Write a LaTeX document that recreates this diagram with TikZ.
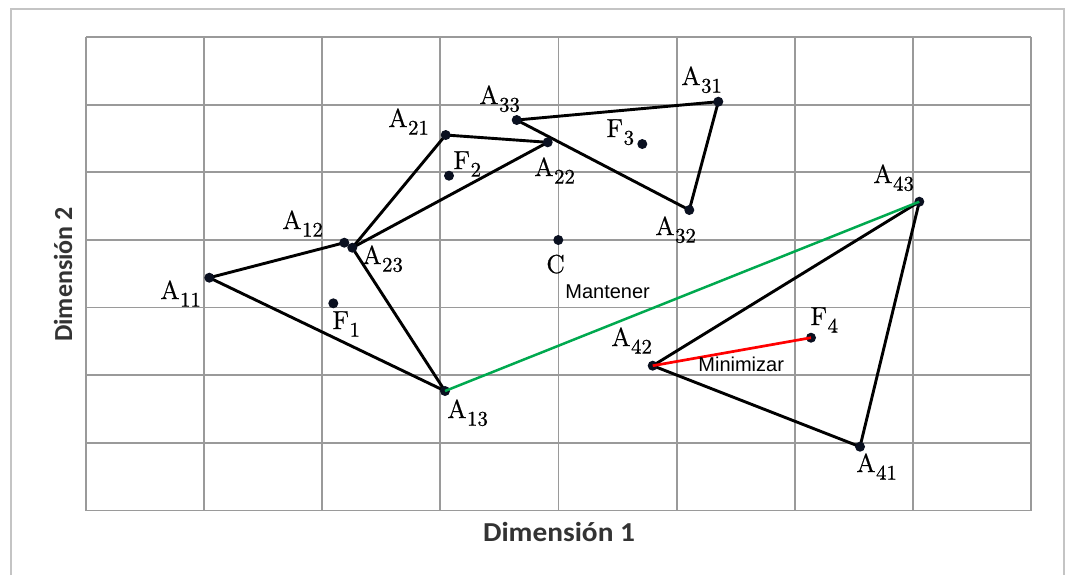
\documentclass[tikz,border=0pt]{standalone}
\usepackage{fontspec}
\newfontfamily\arialf{Liberation Sans}
\newfontfamily\calf{Carlito}
\newfontfamily\labf[FakeBold=0.8]{Latin Modern Roman}
\definecolor{gridgray}{HTML}{9A9A9A}
\definecolor{framegray}{HTML}{C4C4C4}
\definecolor{keepgreen}{HTML}{00A94F}
\definecolor{dotcol}{HTML}{0A1020}
\definecolor{axistext}{HTML}{333333}
\newcommand{\lbl}[2]{\labf\fontsize{13}{13}\selectfont #1\kern0.3pt\raisebox{-3.8pt}{\fontsize{10.4}{10}\selectfont #2}}
\newcommand{\lblc}[1]{\labf\fontsize{13}{13}\selectfont #1}
\begin{document}
\begin{tikzpicture}[x=0.5pt,y=-0.5pt,
 frameline/.style={draw=framegray, line width=1pt},
 gridline/.style={draw=gridgray, line width=0.9pt},
 edge/.style={draw=black, line width=1.45pt},
 keep/.style={draw=keepgreen, line width=1.25pt},
 minim/.style={draw=red, line width=1.35pt},
 dot/.style={circle, fill=dotcol, inner sep=0pt, minimum size=5pt},
 lab/.style={anchor=base west, inner sep=0pt, text=black},
 note/.style={anchor=base west, inner sep=0pt, font=\arialf\fontsize{10}{12}\selectfont},
 axis/.style={anchor=base, inner sep=0pt, text=axistext, font=\calf\bfseries}]
\useasboundingbox (0,0) rectangle (1068,575);
\fill[white] (0,0) rectangle (1068,575);
\draw[frameline] (10.5,575) -- (10.5,8.5) -- (1063.5,8.5) -- (1063.5,575);
% grid
\foreach \i in {0,...,8} {\draw[gridline] ({86+118.125*\i},37) -- ({86+118.125*\i},510.5);}
\foreach \j in {0,...,7} {\draw[gridline] (86,{37+67.64*\j}) -- (1031,{37+67.64*\j});}
% points
\coordinate (a11) at (209.3,277.7);
\coordinate (a12) at (344.3,242.7);
\coordinate (a23) at (352.3,247.7);
\coordinate (a13) at (445,391);
\coordinate (a21) at (445.7,135);
\coordinate (a22) at (547.7,142.3);
\coordinate (a33) at (516.7,120);
\coordinate (a31) at (718.3,101.7);
\coordinate (a32) at (689.3,210);
\coordinate (a43) at (919.3,201.7);
\coordinate (a42) at (652.7,365.7);
\coordinate (a41) at (860,446.7);
\coordinate (f1) at (333.3,303.3);
\coordinate (f2) at (449,175.7);
\coordinate (f3) at (642.3,144);
\coordinate (f4) at (811,337.7);
\coordinate (c) at (558.3,240);
% triangles
\draw[edge] (a11) -- (a12);
\draw[edge] (a11) -- (a13);
\draw[edge] (a23) -- (a13);
\draw[edge] (a21) -- (a22);
\draw[edge] (a21) -- (a23);
\draw[edge] (a23) -- (a22);
\draw[edge] (a33) -- (a31);
\draw[edge] (a31) -- (a32);
\draw[edge] (a32) -- (a33);
\draw[edge] (a42) -- (a43);
\draw[edge] (a43) -- (a41);
\draw[edge] (a41) -- (a42);
% dots
\foreach \p in {a11,a12,a23,a13,a21,a22,a33,a31,a32,a43,a42,a41,f1,f2,f3,f4,c}
  {\node[dot] (d\p) at (\p) {};}
% special connectors
\draw[keep] (a13) -- (a43);
\draw[minim] (a42) -- (f4);
% labels
\node[lab] (l11) at (160,299) {\lbl{A}{11}};
\node[lab] (l12) at (282,229) {\lbl{A}{12}};
\node[lab] (l23) at (362,264) {\lbl{A}{23}};
\node[lab] (l21) at (388,127) {\lbl{A}{21}};
\node[lab] (l33) at (479,104) {\lbl{A}{33}};
\node[lab] (l22) at (534,176) {\lbl{A}{22}};
\node[lab] (lf2) at (453,169) {\lbl{F}{2}};
\node[lab] (lc) at (546,273) {\lblc{C}};
\node[lab] (lf1) at (332,329) {\lbl{F}{1}};
\node[lab] (l13) at (447,418) {\lbl{A}{13}};
\node[lab] (l42) at (611,346) {\lbl{A}{42}};
\node[lab] (lf4) at (810,325) {\lbl{F}{4}};
\node[lab] (l41) at (856,472) {\lbl{A}{41}};
\node[lab] (l31) at (681,85) {\lbl{A}{31}};
\node[lab] (lf3) at (606,137) {\lbl{F}{3}};
\node[lab] (l32) at (655,235) {\lbl{A}{32}};
\node[lab] (l43) at (873,183) {\lbl{A}{43}};
\node[note] (mant) at (565,298) {Mantener};
\node[note] (mini) at (698,371) {Minimizar};
\node[axis] (ax1) at (559,541) {\fontsize{13.7}{14}\selectfont\scalebox{1.07}[1]{Dimensión 1}};
\node[axis, rotate=90] (ax2) at (72,274.5) {\fontsize{13}{14}\selectfont Dimensión 2};
\end{tikzpicture}
\end{document}
